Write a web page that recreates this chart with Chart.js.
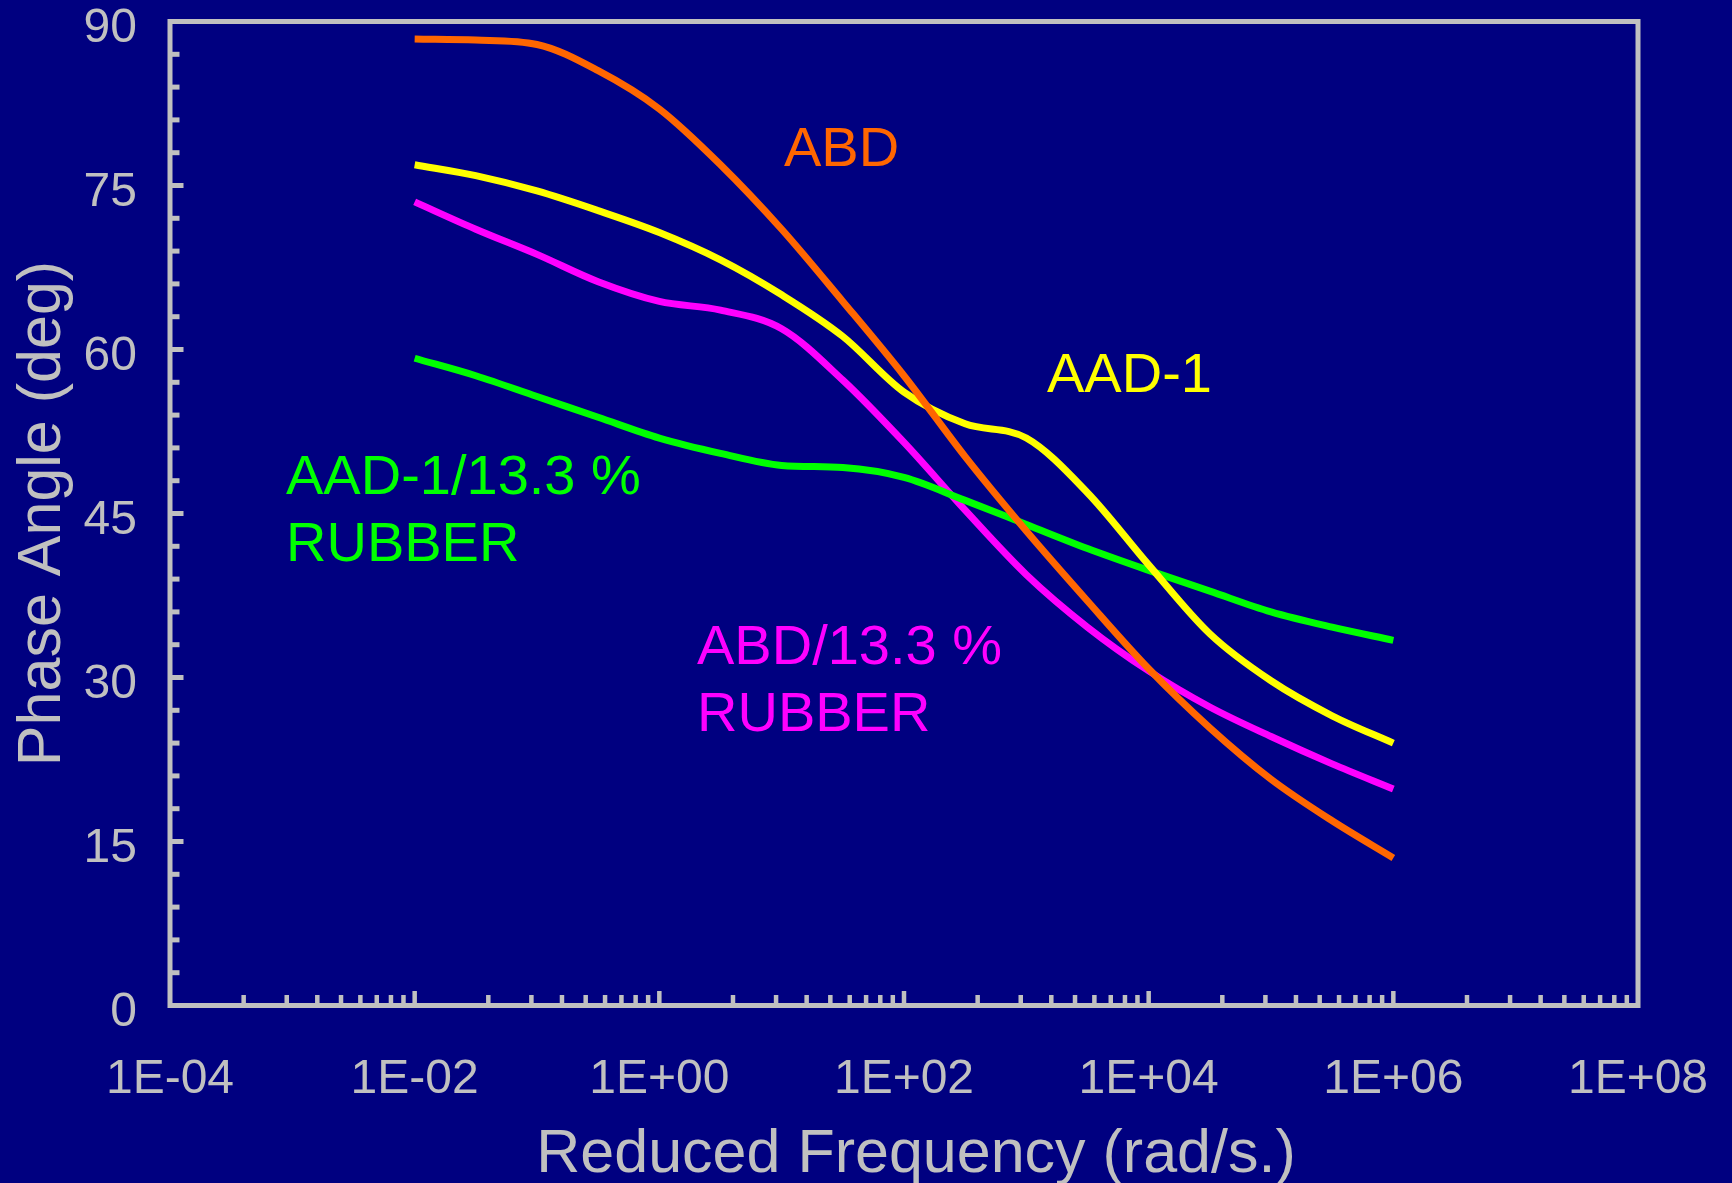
<!DOCTYPE html>
<html>
<head>
<meta charset="utf-8">
<script src="https://cdn.jsdelivr.net/npm/chart.js@4"></script>
<style>
  html, body { margin: 0; padding: 0; background: #000080; overflow: hidden; }
  #wrap { width: 1732px; height: 1183px; position: relative; }
</style>
</head>
<body>
<div id="wrap"><canvas id="myChart"></canvas></div>
<script>
// reduced frequency (rad/s), half-decade steps
const freq = [0.01, 0.0316, 0.1, 0.316, 1, 3.16, 10, 31.6, 100, 316, 1000, 3160, 10000, 31600, 100000, 316000, 1000000]

// phase angle (deg)
const abd       = [88.4, 88.3, 87.9, 85.5, 82.0, 76.9, 71.0, 64.4, 57.6, 50.2, 43.4, 37.0, 30.8, 25.4, 20.7, 16.9, 13.5]
const aad1      = [76.9, 75.9, 74.5, 72.7, 70.7, 68.2, 65.0, 61.2, 56.1, 53.2, 51.9, 46.9, 40.3, 34.0, 29.7, 26.5, 24.0]
const abdRubber = [73.5, 71.0, 68.7, 66.2, 64.4, 63.6, 61.9, 57.2, 51.5, 45.3, 39.4, 34.6, 30.6, 27.3, 24.6, 22.1, 19.8]
const aadRubber = [59.2, 57.6, 55.7, 53.8, 51.9, 50.5, 49.4, 49.2, 48.3, 46.2, 44.0, 41.8, 39.8, 37.9, 36.0, 34.6, 33.4]

// axis ticks
const xMajors = [1e-4, 1e-2, 1, 1e2, 1e4, 1e6, 1e8]
const xLabels = ['1E-04', '1E-02', '1E+00', '1E+02', '1E+04', '1E+06', '1E+08']
const yTicks = [0, 15, 30, 45, 60, 75, 90]

const seriesNames = ['ABD', 'AAD-1', 'ABD/13.3 % RUBBER', 'AAD-1/13.3 % RUBBER']
const noteText = [['ABD'], ['AAD-1'], ['AAD-1/13.3 %', 'RUBBER'], ['ABD/13.3 %', 'RUBBER']]
const xTitle = 'Reduced Frequency (rad/s.)'
const yTitle = 'Phase Angle (deg)'

const FONT = 'Arial, "Liberation Sans", sans-serif'
const SILVER = '#C0C0C0'
const NAVY = '#000080'

const toPoints = arr => arr.map((v, i) => ({x: freq[i], y: v}))

// background, frame and inward tick marks
const frame = {
    id: 'frame',
    beforeDraw(chart) {
        const c = chart.ctx
        c.save()
        c.fillStyle = NAVY
        c.fillRect(0, 0, chart.width, chart.height)
        c.restore()
    },
    afterDatasetsDraw(chart) {
        const c = chart.ctx
        const a = chart.chartArea
        const xs = chart.scales.x
        const ys = chart.scales.y
        c.save()
        c.strokeStyle = SILVER
        c.lineCap = 'butt'
        c.lineWidth = 5
        c.strokeRect(a.left, a.top, a.right - a.left, a.bottom - a.top)

        // y ticks every 3 deg, longer at labelled values
        for (let v = 3; v < 90; v += 3) {
            const py = ys.getPixelForValue(v)
            const len = yTicks.includes(v) ? 11 : 7
            c.beginPath()
            c.moveTo(a.left, py)
            c.lineTo(a.left + 2.5 + len, py)
            c.stroke()
        }

        // x ticks: majors every 100x, minors at k^2 times the major
        c.lineWidth = 4.5
        xMajors.forEach((m, i) => {
            if (i > 0 && i < xMajors.length - 1) {
                const px = xs.getPixelForValue(m)
                c.beginPath()
                c.moveTo(px, a.bottom)
                c.lineTo(px, a.bottom - 2.5 - 12)
                c.stroke()
            }
            if (i === xMajors.length - 1) return
            for (let k = 2; k <= 9; k++) {
                const px = xs.getPixelForValue(m * k * k)
                c.beginPath()
                c.moveTo(px, a.bottom)
                c.lineTo(px, a.bottom - 2.5 - 8)
                c.stroke()
            }
        })
        c.restore()
    }
}

// curve names inside the plot + x axis title (sits a bit right of centre in the original)
const notes = {
    id: 'notes',
    afterDraw(chart) {
        const c = chart.ctx
        const spots = [
            {x: 784, y: 166},
            {x: 1047, y: 392},
            {x: 286, y: 494},
            {x: 697, y: 664}
        ]
        c.save()
        c.font = '56px ' + FONT
        c.textAlign = 'left'
        c.textBaseline = 'alphabetic'
        noteText.forEach((lines, i) => {
            c.fillStyle = chart.data.datasets[i].borderColor
            lines.forEach((t, j) => c.fillText(t, spots[i].x, spots[i].y + j * 66.5))
        })

        c.font = '61px ' + FONT
        c.fillStyle = SILVER
        c.textAlign = 'center'
        c.textBaseline = 'middle'
        c.fillText(xTitle, 916, 1155)
        c.restore()
    }
}

const colors = ['#FF6600', '#FFFF00', '#00FF00', '#FF00FF']

new Chart(document.getElementById('myChart'), {
    type: 'line',
    data: {
        datasets: [
            {label: seriesNames[0], data: toPoints(abd), borderColor: colors[0]},
            {label: seriesNames[1], data: toPoints(aad1), borderColor: colors[1]},
            {label: seriesNames[3], data: toPoints(aadRubber), borderColor: colors[2]},
            {label: seriesNames[2], data: toPoints(abdRubber), borderColor: colors[3]}
        ]
    },
    options: {
        responsive: true,
        maintainAspectRatio: false,
        animation: false,
        layout: {autoPadding: false, padding: {left: 0, right: 94, top: 21.5, bottom: 0}},
        elements: {
            line: {borderWidth: 7, cubicInterpolationMode: 'monotone', fill: false},
            point: {radius: 0, hoverRadius: 0}
        },
        plugins: {
            legend: {display: false},
            tooltip: {enabled: false}
        },
        scales: {
            x: {
                type: 'logarithmic',
                min: 1e-4,
                max: 1e8,
                grid: {display: false, drawTicks: false},
                border: {display: false},
                afterBuildTicks: scale => { scale.ticks = xMajors.map(v => ({value: v})) },
                afterFit: scale => {
                    scale.height = 177.5
                    scale.paddingLeft = 0
                    scale.paddingRight = 0
                },
                ticks: {
                    autoSkip: false,
                    maxRotation: 0,
                    padding: 50,
                    color: SILVER,
                    font: {family: FONT, size: 48, lineHeight: 1},
                    callback: v => {
                        const i = xMajors.indexOf(v)
                        return i >= 0 ? xLabels[i] : ''
                    }
                },
                title: {display: false}
            },
            y: {
                min: 0,
                max: 90,
                grid: {display: false, drawTicks: false},
                border: {display: false},
                afterBuildTicks: scale => { scale.ticks = yTicks.map(v => ({value: v})) },
                afterFit: scale => {
                    scale.width = 170
                    scale.paddingTop = 0
                    scale.paddingBottom = 0
                },
                ticks: {
                    padding: 33,
                    labelOffset: 7,
                    color: SILVER,
                    font: {family: FONT, size: 48, lineHeight: 1}
                },
                title: {
                    display: true,
                    text: yTitle,
                    color: SILVER,
                    font: {family: FONT, size: 61, lineHeight: 1},
                    padding: {top: 13, bottom: 0}
                }
            }
        }
    },
    plugins: [frame, notes]
})
</script>
</body>
</html>
